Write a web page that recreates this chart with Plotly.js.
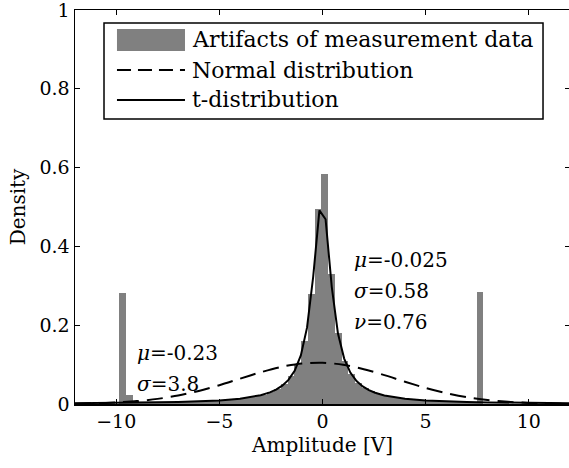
<!DOCTYPE html>
<html>
<head>
<meta charset="utf-8">
<script src="https://cdn.plot.ly/plotly-3.0.1.min.js"></script>
<style>
html, body { margin: 0; padding: 0; width: 569px; height: 468px; overflow: hidden; background: #fff; }
#chart { width: 571px; height: 468px; }
</style>
</head>
<body>
<div id="chart"></div>
<script>
// Histogram of measurement data (bin centers and density heights)
const binCenters = [-9.70, -9.373, -9.046, -8.719, -8.392, -8.065, -7.738, -7.411, -7.084, -6.757,
  -6.43, -6.103, -5.776, -5.449, -5.122, -4.795, -4.468, -4.141, -3.814, -3.487,
  -3.16, -2.833, -2.506, -2.179, -1.852, -1.525, -1.198, -0.871, -0.544, -0.217,
  0.11, 0.437, 0.764, 1.091, 1.418, 1.745, 2.072, 2.399, 2.726, 3.053,
  3.38, 3.707, 4.034, 4.361, 4.688, 5.015, 5.342, 5.669, 5.996, 6.323,
  6.65, 6.977, 7.304, 7.631];
const histDensity = [0.283, 0.023, 0.008, 0.005, 0.004, 0.005, 0.004, 0.005, 0.006, 0.005,
  0.006, 0.007, 0.007, 0.008, 0.009, 0.010, 0.011, 0.013, 0.015, 0.017,
  0.020, 0.024, 0.030, 0.038, 0.051, 0.070, 0.102, 0.160, 0.280, 0.495,
  0.585, 0.330, 0.180, 0.110, 0.075, 0.053, 0.040, 0.032, 0.026, 0.021,
  0.018, 0.016, 0.014, 0.012, 0.011, 0.010, 0.009, 0.008, 0.007, 0.007,
  0.006, 0.006, 0.006, 0.285];

// Fitted normal distribution curve
const normalX = [-12, -11, -10, -9, -8, -7, -6, -5, -4, -3, -2, -1, 0, 1, 2, 3, 4, 5, 6, 7, 8, 9, 10, 11, 12];
const normalY = [0.0009, 0.0019, 0.0039, 0.0073, 0.0130, 0.0215, 0.0331, 0.0478, 0.0642, 0.0805,
  0.0942, 0.1029, 0.1048, 0.0996, 0.0884, 0.0732, 0.0565, 0.0407, 0.0274, 0.0172,
  0.0101, 0.0055, 0.0028, 0.0013, 0.0006];

// Fitted t-distribution curve
const tX = [-12, -11, -10, -9, -8, -7, -6, -5, -4, -3.5, -3, -2.55, -2.25, -1.95, -1.65, -1.35, -1.05, -0.75, -0.45, -0.15,
  0.15, 0.45, 0.75, 1.05, 1.35, 1.65, 1.95, 2.25, 2.55, 3, 3.5, 4, 5, 6, 7, 8, 9, 10, 11, 12];
const tY = [0.0020, 0.0023, 0.0027, 0.0033, 0.0040, 0.0051, 0.0067, 0.0092, 0.0136, 0.0171, 0.0223, 0.0295, 0.0365, 0.0465, 0.0612, 0.0843, 0.1233, 0.1937, 0.3236, 0.4915,
  0.4688, 0.2968, 0.1788, 0.1152, 0.0797, 0.0583, 0.0445, 0.0352, 0.0285, 0.0217, 0.0167, 0.0133, 0.0090, 0.0066, 0.0050, 0.0040, 0.0032, 0.0027, 0.0023, 0.0020];

const seriesNames = ['Artifacts of measurement data', 'Normal distribution', 't-distribution'];
const xTicks = [-10, -5, 0, 5, 10];
const yTicks = [0, 0.2, 0.4, 0.6, 0.8, 1];

const gray = '#808080';
const FONT = 'DejaVu Serif, Liberation Serif, serif';

const traces = [
  { type: 'bar', x: binCenters, y: histDensity, name: seriesNames[0],
    marker: { color: gray, line: { width: 0 } }, hoverinfo: 'skip' },
  { type: 'scatter', mode: 'lines', x: normalX, y: normalY, name: seriesNames[1],
    line: { color: 'black', width: 2, dash: '16px,8px', shape: 'spline', smoothing: 0.8 } },
  { type: 'scatter', mode: 'lines', x: tX, y: tY, name: seriesNames[2],
    line: { color: 'black', width: 2 } }
];

const axisCommon = {
  ticks: 'inside', ticklen: 5, tickwidth: 1.2, tickcolor: 'black',
  showline: true, linecolor: 'black', linewidth: 1.5, mirror: 'ticks',
  showgrid: false, zeroline: false, ticklabeloverflow: 'allow',
  tickfont: { size: 19, color: 'black', family: FONT }
};

const annFont = { family: FONT, size: 20, color: 'black' };
function ann(x, y, text, xref, yref, size) {
  return { x: x, y: y, xref: xref || 'x', yref: yref || 'y', text: text, showarrow: false,
    xanchor: 'left', yanchor: 'middle', align: 'left',
    font: Object.assign({}, annFont, size ? { size: size } : {}) };
}

// Legend drawn in paper coordinates (box, symbol samples, labels)
const legX0 = 0.0586, legX1 = 0.9455, legY0 = 0.7234, legY1 = 0.967;
const symX0 = 0.0848, symX1 = 0.2222, txtX = 0.2323;
const rowY = [0.9239, 0.8477, 0.7716];

const layout = {
  width: 571, height: 468,
  margin: { l: 75, r: 1, t: 10, b: 64, pad: 0 },
  paper_bgcolor: 'white', plot_bgcolor: 'white',
  font: { family: FONT, color: 'black', size: 19 },
  bargap: 0,
  showlegend: false,
  xaxis: Object.assign({}, axisCommon, { range: [-12, 12], tickvals: xTicks,
    title: { text: 'Amplitude [V]', font: { size: 20, family: FONT, color: 'black' }, standoff: 6 } }),
  yaxis: Object.assign({}, axisCommon, { range: [0, 1], tickvals: yTicks,
    title: { text: 'Density', font: { size: 20, family: FONT, color: 'black' }, standoff: 8 } }),
  shapes: [
    { type: 'rect', xref: 'paper', yref: 'paper', x0: legX0, x1: legX1, y0: legY0, y1: legY1,
      fillcolor: 'white', line: { color: 'black', width: 1.5 }, layer: 'above' },
    { type: 'rect', xref: 'paper', yref: 'paper', x0: symX0, x1: symX1, y0: rowY[0] - 0.028, y1: rowY[0] + 0.028,
      fillcolor: gray, line: { width: 0 }, layer: 'above' },
    { type: 'line', xref: 'paper', yref: 'paper', x0: symX0, x1: symX1, y0: rowY[1], y1: rowY[1],
      line: { color: 'black', width: 2, dash: '14px,7px' }, layer: 'above' },
    { type: 'line', xref: 'paper', yref: 'paper', x0: symX0, x1: symX1, y0: rowY[2], y1: rowY[2],
      line: { color: 'black', width: 2 }, layer: 'above' }
  ],
  annotations: [
    ann(txtX, rowY[0], seriesNames[0], 'paper', 'paper', 22),
    ann(txtX, rowY[1], seriesNames[1], 'paper', 'paper', 22),
    ann(txtX, rowY[2], seriesNames[2], 'paper', 'paper', 22),
    ann(1.43, 0.365, '<i>μ</i>=-0.025'),
    ann(1.43, 0.287, '<i>σ</i>=0.58'),
    ann(1.43, 0.208, '<i>ν</i>=0.76'),
    ann(-9.09, 0.129, '<i>μ</i>=-0.23'),
    ann(-9.09, 0.051, '<i>σ</i>=3.8')
  ]
};

Plotly.newPlot('chart', traces, layout, { staticPlot: true, displayModeBar: false });
</script>
</body>
</html>
